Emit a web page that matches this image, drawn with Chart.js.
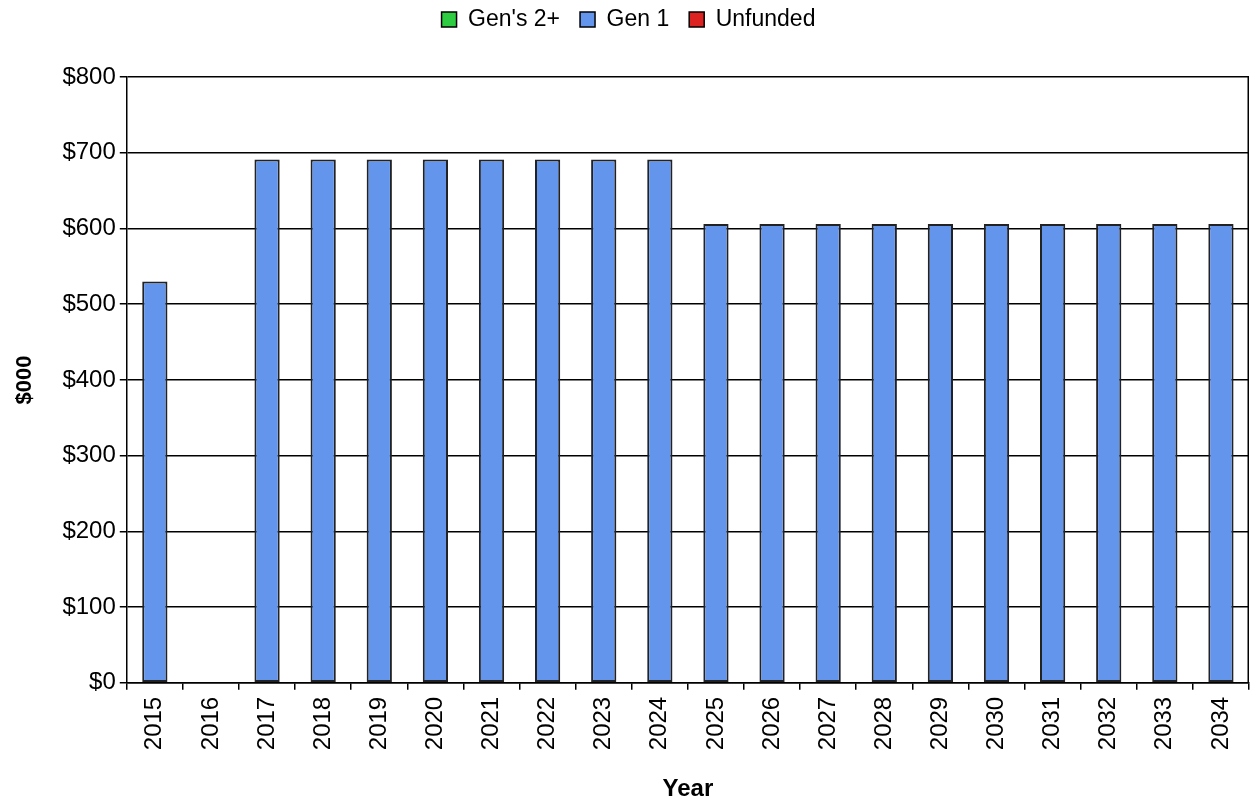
<!DOCTYPE html>
<html>
<head>
<meta charset="utf-8">
<script src="https://cdn.jsdelivr.net/npm/chart.js@4"></script>
<style>
  html, body { margin: 0; padding: 0; background: #fff; }
  #wrap { width: 1250px; height: 801px; }
</style>
</head>
<body>
<div id="wrap"><canvas id="Funding"></canvas></div>
<script>
const years = ['2015','2016','2017','2018','2019','2020','2021','2022','2023','2024',
               '2025','2026','2027','2028','2029','2030','2031','2032','2033','2034'];
const gens2plus = [0,0,0,0,0,0,0,0,0,0,0,0,0,0,0,0,0,0,0,0];
const gen1 = [530,0,691,691,691,691,691,691,691,691,606,606,606,606,606,606,606,606,606,606];
const unfunded = [0,0,0,0,0,0,0,0,0,0,0,0,0,0,0,0,0,0,0,0];
const yTicks = [0,100,200,300,400,500,600,700,800];

Chart.defaults.font.family = '"Liberation Sans", Arial, sans-serif';
Chart.defaults.color = '#000';

// outline on the right side of the plot area
const frame = {
    id: 'frame',
    afterDraw(chart) {
        const a = chart.chartArea, c = chart.ctx;
        c.save();
        c.strokeStyle = '#000';
        c.lineWidth = 1.5;
        c.beginPath();
        c.moveTo(a.right - 0.75, a.top);
        c.lineTo(a.right - 0.75, a.bottom);
        c.stroke();
        c.restore();
    }
};

// extra room below the legend
const legendGap = {
    id: 'legendGap',
    beforeInit(chart) {
        const fit = chart.legend.fit;
        chart.legend.fit = function () {
            fit.bind(chart.legend)();
            this.height += 36;
        };
    }
};

function barSet(label, data, colour) {
    return {
        label: label,
        data: data,
        backgroundColor: colour,
        borderColor: '#222',
        borderWidth: ctx => (ctx.raw ? 2 : 0),   // no outline on empty segments
        borderSkipped: false,
        barPercentage: 0.45,
        categoryPercentage: 1.0
    };
}

const chart = new Chart(document.getElementById('Funding'), {
    type: 'bar',
    data: {
        labels: years,
        datasets: [
            barSet("Gen's 2+", gens2plus, '#2ecc40'),
            barSet('Gen 1', gen1, '#6495ed'),
            barSet('Unfunded', unfunded, '#dd2222')
        ]
    },
    options: {
        responsive: true,
        maintainAspectRatio: false,
        animation: false,
        layout: { padding: { top: -12, right: 1, left: 8, bottom: -3 } },
        plugins: {
            legend: {
                position: 'top',
                labels: {
                    font: { size: 23 },
                    boxWidth: 15,
                    boxHeight: 15,
                    padding: 20,
                    generateLabels(ch) {
                        return ch.data.datasets.map((d, i) => ({
                            text: d.label,
                            fillStyle: d.backgroundColor,
                            strokeStyle: '#000',
                            lineWidth: 1.5,
                            datasetIndex: i
                        }));
                    }
                }
            },
            tooltip: { enabled: false }
        },
        scales: {
            x: {
                stacked: true,
                afterFit(scale) { scale.paddingRight = 0; },
                grid: { drawOnChartArea: false, color: '#000', lineWidth: 1.5, tickLength: 7, offset: true },
                border: { color: '#000', width: 1.5 },
                ticks: { font: { size: 24 }, padding: 7, minRotation: 90, maxRotation: 90, autoSkip: false },
                title: { display: true, text: 'Year', font: { size: 24, weight: 'bold' }, padding: { top: 18, bottom: 0 } }
            },
            y: {
                stacked: true,
                min: 0,
                max: 800,
                afterBuildTicks(axis) { axis.ticks = yTicks.map(v => ({ value: v })); },
                grid: { color: '#000', lineWidth: 1.5, tickLength: 7 },
                border: { color: '#000', width: 1.5 },
                ticks: { font: { size: 24 }, padding: 4, callback: v => '$' + v },
                title: { display: true, text: '$000', font: { size: 22, weight: 'bold' }, padding: { bottom: 20 } }
            }
        }
    },
    plugins: [frame, legendGap]
});
</script>
</body>
</html>
